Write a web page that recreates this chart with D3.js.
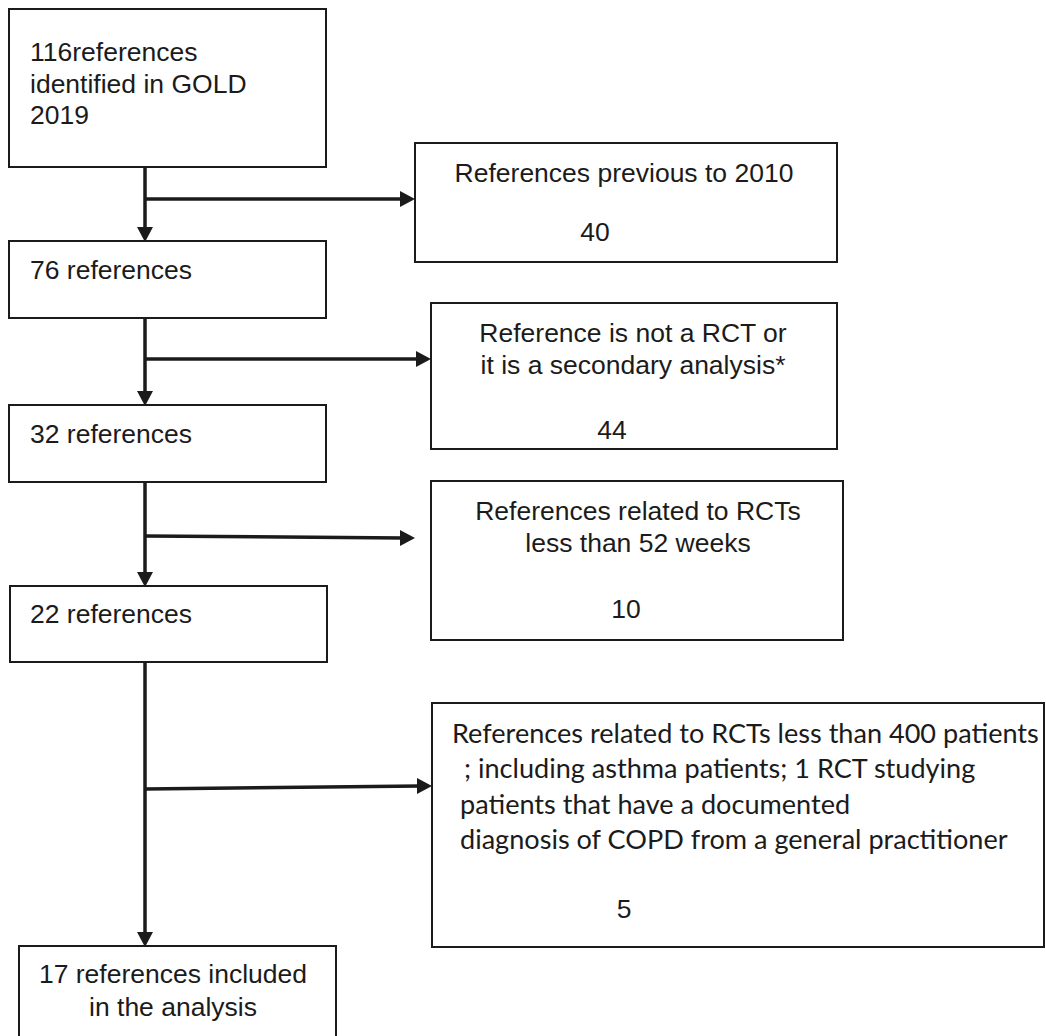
<!DOCTYPE html>
<html>
<head>
<meta charset="utf-8">
<script src="https://cdn.jsdelivr.net/npm/d3@7"></script>
<style>
  body { margin: 0; background: #fff; }
</style>
</head>
<body>
<div id="chart"></div>
<script>
// counts left after each screening step, and how many were dropped at each step
const remaining = [116, 76, 32, 22, 17];
const excluded = [40, 44, 10, 5];

const stageText = [
    [remaining[0] + "references", "identified in GOLD", "2019"],
    [remaining[1] + " references"],
    [remaining[2] + " references"],
    [remaining[3] + " references"],
    [remaining[4] + " references included", "in the analysis"]
];

const exclusionText = [
    ["References previous to 2010"],
    ["Reference is not a RCT or", "it is a secondary analysis*"],
    ["References related to RCTs", "less than 52 weeks"],
    ["References related to RCTs less than 400 patients",
     "; including asthma patients; 1 RCT studying",
     "patients that have a documented",
     "diagnosis of COPD from a general practitioner"]
];

// layout (box edges, text anchors), kept apart from the data above
const width = 1046, height = 1036;
const trunkX = 145;
const ink = "#1b1b1b";
const fontSize = 26.5;

const leftLayout = [
    { x0: 9,  y0: 9,   x1: 326, y1: 167,  tx: 30, ty: 61,  lh: 31.5, anchor: "start" },
    { x0: 9,  y0: 241, x1: 326, y1: 318,  tx: 30, ty: 279, lh: 31,   anchor: "start" },
    { x0: 9,  y0: 405, x1: 326, y1: 482,  tx: 30, ty: 443, lh: 31,   anchor: "start" },
    { x0: 10, y0: 586, x1: 327, y1: 662,  tx: 30, ty: 623, lh: 31,   anchor: "start" },
    { x0: 19, y0: 946, x1: 336, y1: 1060, tx: 173, ty: 983, lh: 33,  anchor: "middle" }
];

const rightLayout = [
    { x0: 415, y0: 143, x1: 837,  y1: 262, tx: 624, ty: 182, lh: 32, anchor: "middle", cx: 595, cy: 241, yA: 199, yB: 199 },
    { x0: 431, y0: 303, x1: 837,  y1: 449, tx: 633, ty: 342, lh: 32, anchor: "middle", cx: 612, cy: 439, yA: 359, yB: 359 },
    { x0: 431, y0: 481, x1: 843,  y1: 640, tx: 638, ty: 520, lh: 32, anchor: "middle", cx: 626, cy: 618, yA: 536, yB: 538, tip: 415 },
    { x0: 432, y0: 703, x1: 1044, y1: 947, tx: [452, 464, 460, 460], ty: 743, lh: 35.3, anchor: "start", cx: 624, cy: 918, yA: 789, yB: 786, calibri: true }
];

const svg = d3.select("#chart")
    .append("svg")
    .attr("width", width)
    .attr("height", height);

const helv = "'Liberation Sans', Arial, Helvetica, sans-serif";

function arrowHead(tipX, tipY, dir) {
    const len = 15, half = 8;
    const p = d3.path();
    if (dir === "down") {
        p.moveTo(tipX, tipY);
        p.lineTo(tipX - half, tipY - len);
        p.lineTo(tipX + half, tipY - len);
    } else {
        p.moveTo(tipX, tipY);
        p.lineTo(tipX - len, tipY - half);
        p.lineTo(tipX - len, tipY + half);
    }
    p.closePath();
    return p.toString();
}

// main column boxes
const left = svg.selectAll(".stage")
    .data(stageText.map((lines, i) => ({ lines, box: leftLayout[i] })))
    .enter().append("g")
    .attr("class", "stage");

left.append("rect")
    .attr("x", d => d.box.x0)
    .attr("y", d => d.box.y0)
    .attr("width", d => d.box.x1 - d.box.x0)
    .attr("height", d => d.box.y1 - d.box.y0)
    .attr("fill", "#fff")
    .attr("stroke", ink)
    .attr("stroke-width", 2);

left.each(function(d) {
    const t = d3.select(this).append("text")
        .attr("font-family", helv)
        .attr("font-size", fontSize)
        .attr("fill", ink)
        .attr("text-anchor", d.box.anchor);
    t.selectAll("tspan")
        .data(d.lines)
        .enter().append("tspan")
        .attr("x", d.box.tx)
        .attr("y", (s, j) => d.box.ty + j * d.box.lh)
        .text(s => s);
});

// exclusion boxes
const right = svg.selectAll(".excl")
    .data(exclusionText.map((lines, i) => ({ lines, n: excluded[i], box: rightLayout[i] })))
    .enter().append("g")
    .attr("class", "excl");

right.append("rect")
    .attr("x", d => d.box.x0)
    .attr("y", d => d.box.y0)
    .attr("width", d => d.box.x1 - d.box.x0)
    .attr("height", d => d.box.y1 - d.box.y0)
    .attr("fill", "#fff")
    .attr("stroke", ink)
    .attr("stroke-width", 2);

right.each(function(d) {
    const g = d3.select(this);
    const t = g.append("text")
        .attr("font-family", d.box.calibri ? "Lato, 'Open Sans', sans-serif" : helv)
        .attr("font-size", fontSize)
        .attr("fill", ink)
        .attr("text-anchor", d.box.anchor);
    t.selectAll("tspan")
        .data(d.lines)
        .enter().append("tspan")
        .attr("x", (s, j) => Array.isArray(d.box.tx) ? d.box.tx[j] : d.box.tx)
        .attr("y", (s, j) => d.box.ty + j * d.box.lh)
        .text(s => s);

    if (d.box.calibri) {
        // fit the long first line to the width it has in the figure
        const target = 1039 - 452;
        const w = t.select("tspan").node().getComputedTextLength();
        t.attr("font-size", fontSize * target / w);
    }

    g.append("text")
        .attr("x", d.box.cx)
        .attr("y", d.box.cy)
        .attr("font-family", helv)
        .attr("font-size", fontSize)
        .attr("fill", ink)
        .attr("text-anchor", "middle")
        .text(d.n);
});

// connectors: trunk segments between stages, branch to each exclusion box
const links = svg.append("g").attr("class", "links");

rightLayout.forEach((r, i) => {
    const from = leftLayout[i], to = leftLayout[i + 1];

    links.append("line")
        .attr("x1", trunkX).attr("y1", from.y1)
        .attr("x2", trunkX).attr("y2", to.y0 - 12)
        .attr("stroke", ink).attr("stroke-width", 3.5);
    links.append("path")
        .attr("d", arrowHead(trunkX, to.y0 + 1, "down"))
        .attr("fill", ink);

    const tip = r.tip || r.x0;
    links.append("line")
        .attr("x1", trunkX).attr("y1", r.yA)
        .attr("x2", tip - 12).attr("y2", r.yB)
        .attr("stroke", ink).attr("stroke-width", 3.5);
    links.append("path")
        .attr("d", arrowHead(tip, r.yB, "right"))
        .attr("fill", ink);
});
</script>
</body>
</html>
